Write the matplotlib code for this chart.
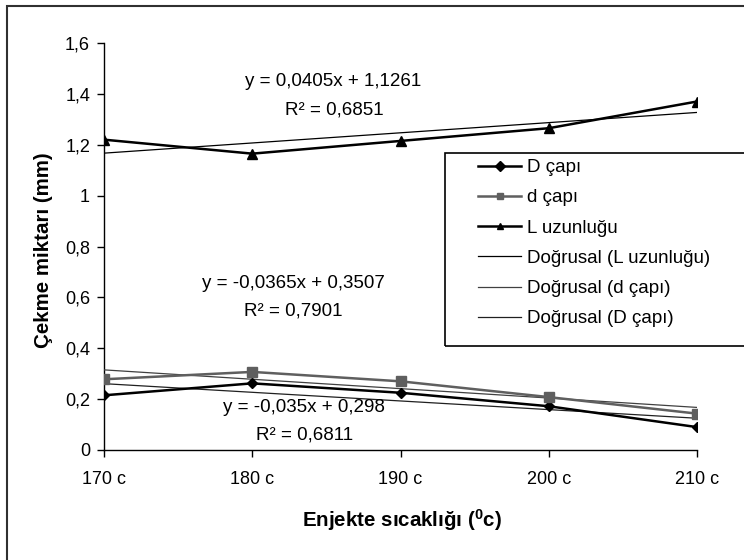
import numpy as np
import matplotlib
matplotlib.use("Agg")
import matplotlib.pyplot as plt
from matplotlib.patches import Rectangle

plt.rcParams['font.family'] = ['Liberation Sans', 'DejaVu Sans']
plt.rcParams['mathtext.fontset'] = 'custom'
plt.rcParams['mathtext.rm'] = 'Liberation Sans'
plt.rcParams['mathtext.bf'] = 'Liberation Sans:bold'

# ==== veriler ====
categories = ['170 c', '180 c', '190 c', '200 c', '210 c']
D_capi = [0.215, 0.262, 0.225, 0.172, 0.090]
d_capi = [0.278, 0.307, 0.270, 0.208, 0.143]
L_uzunlugu = [1.220, 1.165, 1.215, 1.265, 1.370]
yticks = [0, 0.2, 0.4, 0.6, 0.8, 1.0, 1.2, 1.4, 1.6]
ytick_labels = ['0', '0,2', '0,4', '0,6', '0,8', '1', '1,2', '1,4', '1,6']

W, H = 744, 560
fig = plt.figure(figsize=(W / 100, H / 100), dpi=100)
ax = fig.add_axes([104 / W, 1 - 450 / H, (697 - 104) / W, (450 - 43) / H])

x = np.arange(len(categories))
xt = x + 1  # Excel trend x = 1..5

# veri serileri
lD, = ax.plot(x, D_capi, color='black', lw=1.8, marker='D', ms=5, label='D çapı', zorder=4)
ld, = ax.plot(x, d_capi, color='#5f5f5f', lw=1.8, marker='s', ms=7, label='d çapı', zorder=4)
lL, = ax.plot(x, L_uzunlugu, color='black', lw=1.8, marker='^', ms=7, label='L uzunluğu', zorder=4)

# doğrusal eğilim çizgileri
def trend(vals):
    k, b = np.polyfit(xt, vals, 1)
    return k * xt + b

tL, = ax.plot(x, trend(L_uzunlugu), color='black', lw=0.9, label='Doğrusal (L uzunluğu)', zorder=3)
td, = ax.plot(x, trend(d_capi), color='#404040', lw=0.9, label='Doğrusal (d çapı)', zorder=3)
tD, = ax.plot(x, trend(D_capi), color='#202020', lw=0.9, label='Doğrusal (D çapı)', zorder=3)

ax.set_xlim(0, 4)
ax.set_ylim(0, 1.6)
ax.set_xticks(x)
ax.set_xticklabels(categories, fontsize=13)
ax.set_yticks(yticks)
ax.set_yticklabels(ytick_labels, fontsize=13)
ax.tick_params(axis='x', direction='out', length=5, width=1, pad=10)
ax.tick_params(axis='y', direction='out', length=5, width=1, pad=5)
for s in ['top', 'right']:
    ax.spines[s].set_visible(False)
for s in ['left', 'bottom']:
    ax.spines[s].set_linewidth(1)
ax.patch.set_alpha(0)

# denklemler
fs = 13.5
fig.text(333 / W, 1 - 82 / H, 'y = 0,0405x + 1,1261', ha='center', va='center', fontsize=fs)
fig.text(334 / W, 1 - 110 / H, 'R² = 0,6851', ha='center', va='center', fontsize=fs)
fig.text(293 / W, 1 - 283 / H, 'y = -0,0365x + 0,3507', ha='center', va='center', fontsize=fs)
fig.text(293 / W, 1 - 311 / H, 'R² = 0,7901', ha='center', va='center', fontsize=fs)
fig.text(304 / W, 1 - 408 / H, 'y = -0,035x + 0,298', ha='center', va='center', fontsize=fs)
fig.text(305 / W, 1 - 435 / H, 'R² = 0,6811', ha='center', va='center', fontsize=fs)

# eksen başlıkları
fig.text(44 / W, 1 - 250 / H, 'Çekme miktarı (mm)', rotation=90, ha='center', va='center',
         fontsize=14.8, fontweight='bold')
fig.text(402 / W, 1 - 520 / H, r'Enjekte sıcaklığı ($\mathbf{^{0}}$c)', ha='center', va='center',
         fontsize=14.8, fontweight='bold')

# lejant
fig.patches.append(Rectangle((445 / W, 1 - 346 / H), 400 / W, (346 - 153) / H,
                             transform=fig.transFigure, fill=False, edgecolor='black', lw=1.2))
leg = fig.legend(handles=[lD, ld, lL, tL, td, tD], loc='upper left',
                 bbox_to_anchor=(478 / W, 1 - 159 / H), bbox_transform=fig.transFigure,
                 frameon=False, fontsize=13.5, numpoints=1, handlelength=2.3,
                 handletextpad=0.3, labelspacing=0.7, borderpad=0, borderaxespad=0)
for h in leg.legend_handles[:3]:
    h.set_markersize(5)

# dış çerçeve
fig.patches.append(Rectangle((7 / W, -0.1), 1.2, 1 - 6 / H + 0.1, transform=fig.transFigure,
                             fill=False, edgecolor='#303030', lw=1.5))

fig.savefig('out.png', dpi=100)
